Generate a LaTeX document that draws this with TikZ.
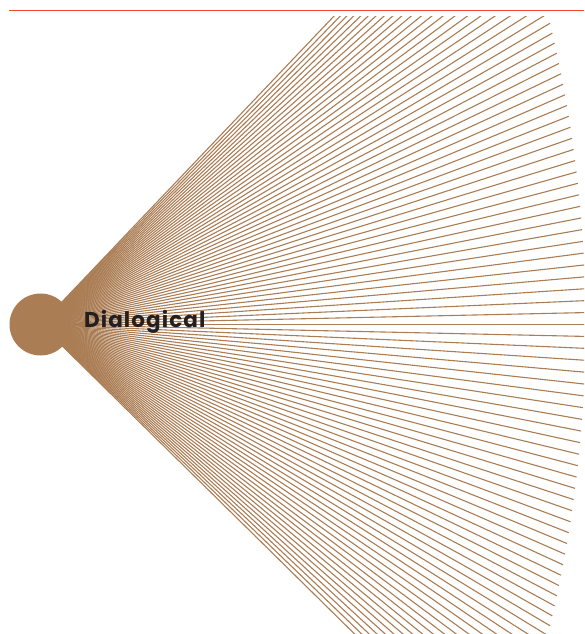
\documentclass[tikz,border=0pt]{standalone}
\usepackage{fontspec}
\newfontfamily\labelfont[LetterSpace=5]{Poppins}
\definecolor{fanbrown}{RGB}{170,125,84}
\definecolor{rulered}{RGB}{240,72,52}
\definecolor{labelink}{RGB}{35,31,32}
\begin{document}
\begin{tikzpicture}[x=1pt,y=-1pt]

% --- Parameters ---
\def\cx{40.5}
\def\cy{324.5}
\def\kstep{0.0219}

\useasboundingbox (0,0) rectangle (584,634);

% --- Top rule ---
\coordinate (ruleL) at (9,10.5);
\coordinate (ruleR) at (584,10.5);
\draw[rulered, line width=1.2pt] (ruleL) -- (ruleR);

% --- Hub disc ---
\node[circle, fill=fanbrown, minimum size=62pt, inner sep=0pt] (hub) at (\cx,\cy) {};

% --- Fan of rays (ends on a wide arc) ---
\begin{scope}
  \clip (0,17) rectangle (584,634);
  \foreach \i in {-45,...,48}{
    \pgfmathsetmacro{\a}{-atan(\i*\kstep)}
    \pgfmathsetmacro{\len}{100*(-7.51*cos(\a)+sqrt(167.9616-(7.51*sin(\a))^2))}
    \draw[fanbrown, line width=1.1pt] (hub.center) -- ++(\a:\len);
  }
\end{scope}

% --- Label ---
\node[anchor=base west, inner sep=0pt, text=labelink,
      font=\labelfont\bfseries\fontsize{21.5}{21.5}\selectfont] (dialog) at (84,327) {Dialogical};

\end{tikzpicture}
\end{document}
